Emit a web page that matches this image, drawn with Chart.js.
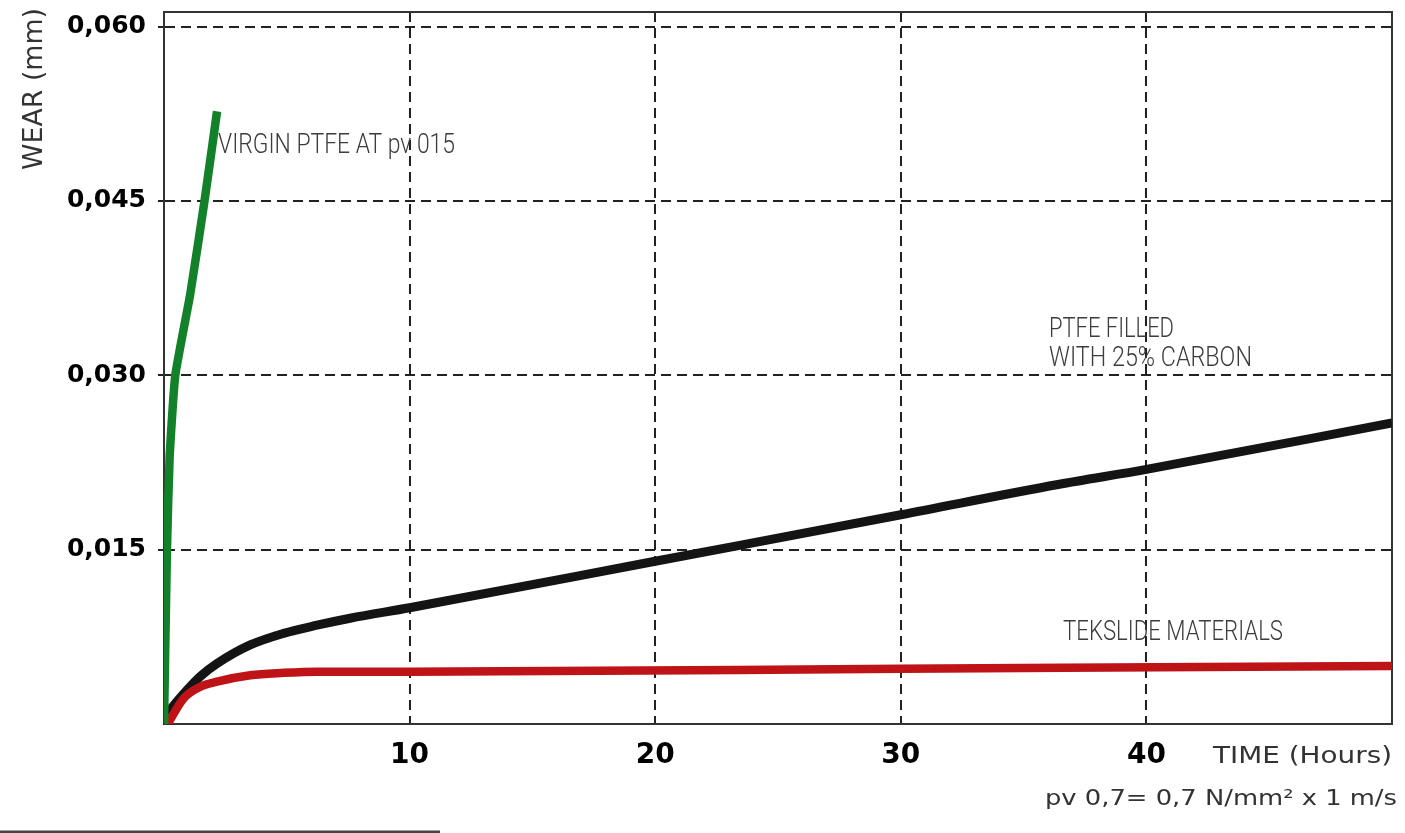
<!DOCTYPE html>
<html>
<head>
<meta charset="utf-8">
<script src="https://cdn.jsdelivr.net/npm/chart.js@4/dist/chart.umd.min.js"></script>
<style>
  html, body { margin: 0; padding: 0; background: #ffffff; }
  #wrap { width: 1405px; height: 833px; position: relative; }
</style>
</head>
<body>
<div id="wrap"><canvas id="c" width="1405" height="833"></canvas></div>
<script>
// ---- data ----
const xTickValues = [10, 20, 30, 40];
const yTickValues = [0.015, 0.030, 0.045, 0.060];

const virginHours = [0, 0.12, 0.23, 0.46, 1.07, 1.65, 2.16];
const virginWear  = [0, 0.015, 0.023, 0.030, 0.037, 0.045, 0.0527];

const carbonHours = [0.12, 0.8, 1.48, 2.16, 3.51, 4.87, 6.23, 7.58, 10, 20, 30, 36.4, 40, 50];
const carbonWear  = [0.0009, 0.0026, 0.0041, 0.0052, 0.0068, 0.0078, 0.0085, 0.0091, 0.0100, 0.0140, 0.0180, 0.0206, 0.0219, 0.0259];

const tekHours = [0.15, 0.8, 1.48, 2.16, 3.51, 4.87, 6.23, 10, 30, 50];
const tekWear  = [0, 0.0022, 0.0032, 0.00365, 0.0042, 0.0044, 0.0045, 0.0045, 0.00475, 0.0050];

const seriesNames = ['VIRGIN PTFE AT pv 015', 'PTFE FILLED WITH 25% CARBON', 'TEKSLIDE MATERIALS'];

const toPoints = (xs, ys) => xs.map((x, i) => ({ x: x, y: ys[i] }));

// ---- helpers ----
function fitText(ctx, text, x, y, font, width, align, color) {
  ctx.save();
  ctx.font = font;
  ctx.fillStyle = color;
  ctx.textBaseline = 'alphabetic';
  ctx.textAlign = 'left';
  const w = ctx.measureText(text).width;
  const sx = width / w;
  ctx.translate(x, y);
  ctx.scale(sx, 1);
  ctx.fillText(text, align === 'right' ? -w : 0, 0);
  ctx.restore();
}

const decorPlugin = {
  id: 'decor',
  beforeDatasetsDraw(chart) {
    const { ctx, chartArea: a } = chart;
    ctx.save();
    ctx.strokeStyle = '#333333';
    ctx.lineWidth = 2;
    ctx.beginPath();
    ctx.moveTo(a.left, a.top);
    ctx.lineTo(a.right, a.top);
    ctx.lineTo(a.right, a.bottom);
    ctx.stroke();
    ctx.restore();
  },
  afterDraw(chart) {
    const ctx = chart.ctx;
    const annFont = '300 28px Roboto';
    const annColor = '#3c3c3c';
    fitText(ctx, 'VIRGIN PTFE AT pv 015', 218, 153, annFont, 237, 'left', annColor);
    fitText(ctx, 'PTFE FILLED', 1049, 337, annFont, 125, 'left', annColor);
    fitText(ctx, 'WITH 25% CARBON', 1049, 366, annFont, 203, 'left', annColor);
    fitText(ctx, 'TEKSLIDE MATERIALS', 1063, 640, annFont, 220, 'left', annColor);

    // axis titles
    fitText(ctx, 'TIME (Hours)', 1392, 763, '23px "DejaVu Sans"', 179, 'right', '#333333');
    fitText(ctx, 'pv 0,7= 0,7 N/mm\u00B2 x 1 m/s', 1397, 805, '21px "DejaVu Sans"', 352, 'right', '#333333');

    ctx.save();
    ctx.translate(42, 170);
    ctx.rotate(-Math.PI / 2);
    fitText(ctx, 'WEAR (mm)', 0, 0, '27px "DejaVu Sans"', 162, 'left', '#333333');
    ctx.restore();

    // bottom rule
    ctx.save();
    ctx.fillStyle = '#444444';
    ctx.fillRect(0, 830.5, 440, 3);
    ctx.restore();
  }
};

const gridDash = [10, 6];

new Chart(document.getElementById('c'), {
  type: 'line',
  data: {
    datasets: [
      { label: seriesNames[0], data: toPoints(virginHours, virginWear), borderColor: '#128129', borderWidth: 8.5,
        pointRadius: 0, tension: 0.15, fill: false },
      { label: seriesNames[2], data: toPoints(tekHours, tekWear), borderColor: '#be1418', borderWidth: 8.5,
        pointRadius: 0, cubicInterpolationMode: 'monotone', fill: false },
      { label: seriesNames[1], data: toPoints(carbonHours, carbonWear), borderColor: '#141414', borderWidth: 9,
        pointRadius: 0, cubicInterpolationMode: 'monotone', fill: false }
    ]
  },
  options: {
    responsive: false,
    animation: false,
    devicePixelRatio: 1,
    layout: { padding: { left: 0, top: 12, right: 13, bottom: 0 } },
    plugins: { legend: { display: false }, tooltip: { enabled: false } },
    scales: {
      x: {
        type: 'linear', min: 0, max: 50,
        afterFit: s => { s.height = 109; s.paddingLeft = 0; s.paddingRight = 0; },
        afterBuildTicks: s => { s.ticks = xTickValues.map(v => ({ value: v })); },
        grid: { color: '#222222', lineWidth: 2, drawTicks: false },
        border: { color: '#333333', width: 2, dash: gridDash },
        ticks: { color: '#000000', font: { family: 'DejaVu Sans', size: 28, weight: 'bold' }, padding: 15,
                 maxRotation: 0, callback: v => String(v) }
      },
      y: {
        type: 'linear', min: 0, max: 0.06125,
        afterFit: s => { s.width = 164; s.paddingTop = 0; s.paddingBottom = 0; },
        afterBuildTicks: s => { s.ticks = yTickValues.map(v => ({ value: v })); },
        grid: { color: '#222222', lineWidth: 2, drawTicks: true, tickLength: 6, tickBorderDash: [] },
        border: { color: '#333333', width: 2, dash: gridDash },
        ticks: { color: '#000000', font: { family: 'DejaVu Sans', size: 25, weight: 'bold' }, padding: 12,
                 callback: v => v.toFixed(3).replace('.', ',') }
      }
    }
  },
  plugins: [decorPlugin]
});
</script>
</body>
</html>
